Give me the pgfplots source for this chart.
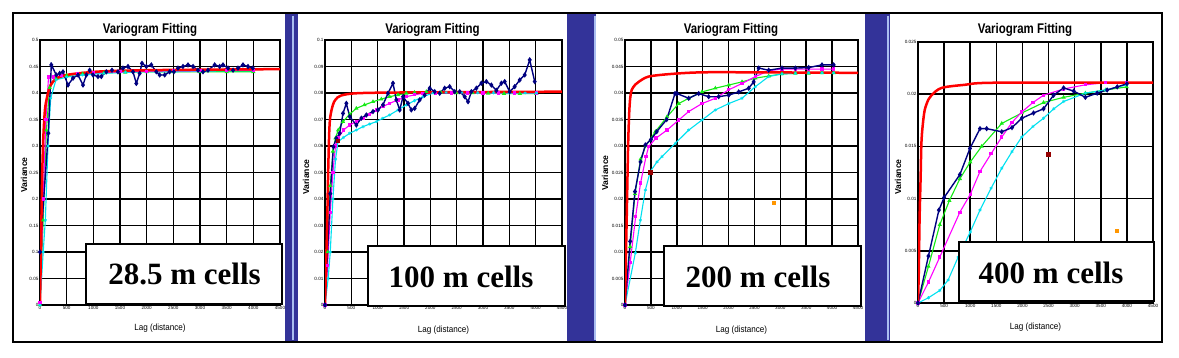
\documentclass[border=0pt]{standalone}
\usepackage{fontspec}
\setmainfont{Liberation Sans}
\newfontfamily\timesbf{Liberation Serif}
\usepackage{pgfplots}
\pgfplotsset{compat=1.18}
\definecolor{stripblue}{RGB}{51,51,153}
\definecolor{stripline}{RGB}{170,190,240}
\definecolor{navy}{RGB}{0,0,128}
\definecolor{vgreen}{RGB}{20,235,20}
\definecolor{vmag}{RGB}{255,0,255}
\definecolor{vcyan}{RGB}{0,225,240}
\definecolor{darkred}{RGB}{150,0,0}
\definecolor{vorange}{RGB}{255,150,0}
\pgfplotsset{
 vario/.style={scale only axis, anchor=south west, xmin=0, xmax=4500, ymin=0,
  xtick={0,500,...,4500}, grid=major,
  major grid style={black, line width=0.8pt},
  axis line style={black, line width=0.8pt},
  tick style={draw=none},
  ticklabel style={font=\fontsize{2.3}{2.6}\selectfont, inner sep=0.6pt},
  /pgf/number format/assume math mode=true,
  xticklabel style={/pgf/number format/1000 sep={}},
  yticklabel style={/pgf/number format/fixed, /pgf/number format/precision=3},
  scaled y ticks=false, scaled x ticks=false,
  every axis plot/.append style={line width=0.55pt}},
 nav/.style={navy, mark=diamond*, mark size=0.8pt, line width=0.7pt},
 grn/.style={vgreen, mark=triangle*, mark size=0.7pt},
 mag/.style={vmag, mark=square*, mark size=0.55pt},
 cya/.style={vcyan, mark=asterisk, mark size=0.8pt, mark options={line width=0.3pt}},
 fit/.style={red, line width=1.25pt, no marks, smooth},
}
\begin{document}
\begin{tikzpicture}
\useasboundingbox (0,0) rectangle (589.5pt,179pt);
\begin{scope}[x=0.5pt,y=-0.5pt,shift={(0,179pt)}]
 \fill[white] (0,0) rectangle (1179,358);
 \fill[stripblue] (285,13) rectangle (298,342);
 \fill[stripblue] (567,13) rectangle (596,342);
 \fill[stripblue] (865,13) rectangle (890,342);
 \draw[stripline, line width=0.6pt] (293,16) -- (293,340);
 \draw[stripline, line width=0.6pt] (595,16) -- (595,340);
 \draw[stripline, line width=0.6pt] (888,16) -- (888,340);
 \draw[black, line width=1pt] (13,13) rectangle (1162,342);
 % titles
 \foreach \cx in {150,432.5,731,1025}{
   \node[font=\bfseries\fontsize{7}{8}\selectfont, inner sep=0pt] at (\cx,30) {\scalebox{0.82}[1]{Variogram Fitting}};}
 % x labels
 \node[font=\fontsize{4.5}{5}\selectfont, inner sep=0pt] at (160,328) {\scalebox{0.9}[1]{Lag (distance)}};
 \node[font=\fontsize{4.5}{5}\selectfont, inner sep=0pt] at (443.5,330) {\scalebox{0.9}[1]{Lag (distance)}};
 \node[font=\fontsize{4.5}{5}\selectfont, inner sep=0pt] at (741.5,330) {\scalebox{0.9}[1]{Lag (distance)}};
 \node[font=\fontsize{4.5}{5}\selectfont, inner sep=0pt] at (1035.5,327) {\scalebox{0.9}[1]{Lag (distance)}};
 % y labels
 \node[font=\bfseries\fontsize{4.3}{5}\selectfont, inner sep=0pt, rotate=90] at (24,175) {Variance};
 \node[font=\bfseries\fontsize{4.3}{5}\selectfont, inner sep=0pt, rotate=90] at (306,177) {Variance};
 \node[font=\bfseries\fontsize{4.3}{5}\selectfont, inner sep=0pt, rotate=90] at (605,173) {Variance};
 \node[font=\bfseries\fontsize{4.3}{5}\selectfont, inner sep=0pt, rotate=90] at (898,177) {Variance};
\end{scope}

% ---------- Panel 1: 28.5 m ----------
\begin{axis}[vario, at={(20pt,26.5pt)}, width=120pt, height=132.5pt,
  ymax=0.5, ytick={0,0.05,0.1,0.15,0.2,0.25,0.3,0.35,0.4,0.45,0.5}]
\addplot[grn] coordinates {(0,0)(60,0.16)(120,0.33)(180,0.41)(300,0.428)(500,0.433)(800,0.436)(1200,0.438)(1600,0.439)(2000,0.44)(2500,0.44)(3000,0.44)(3500,0.44)(4000,0.44)};
\addplot[cya] coordinates {(0,0)(60,0.1)(100,0.16)(150,0.3)(200,0.39)(300,0.425)(500,0.43)(800,0.434)(1200,0.437)(1600,0.439)(2000,0.44)(2500,0.44)(3000,0.441)(3500,0.442)(4000,0.442)};
\addplot[mag] coordinates {(0,0.005)(60,0.2)(110,0.35)(160,0.43)(250,0.43)(400,0.433)(700,0.436)(1000,0.438)(1500,0.44)(2000,0.441)(2500,0.442)(3000,0.442)(3500,0.443)(4000,0.443)};
\addplot[nav] coordinates {(0,0.1)(156,0.324)(212,0.453)(306,0.434)(369,0.437)(431,0.44)(525,0.415)(619,0.428)(712,0.434)(806,0.415)(869,0.434)(931,0.443)(994,0.434)(1087,0.431)(1150,0.431)(1244,0.44)(1350,0.443)(1462,0.44)(1556,0.447)(1650,0.45)(1744,0.44)(1806,0.418)(1869,0.437)(1912,0.456)(1994,0.45)(2087,0.453)(2181,0.44)(2244,0.434)(2338,0.434)(2431,0.44)(2510,0.44)(2587,0.447)(2681,0.45)(2775,0.453)(2870,0.45)(2962,0.443)(3056,0.44)(3150,0.443)(3275,0.453)(3369,0.45)(3431,0.453)(3525,0.447)(3620,0.443)(3712,0.447)(3806,0.453)(3900,0.45)(3990,0.447)};
\addplot[fit] coordinates {(0,0)(20,0.12)(40,0.24)(60,0.31)(80,0.35)(100,0.375)(150,0.4)(200,0.415)(300,0.427)(500,0.434)(800,0.438)(1200,0.441)(2000,0.443)(3000,0.444)(4500,0.445)};
\end{axis}

% ---------- Panel 2: 100 m ----------
\begin{axis}[vario, at={(162.5pt,26.5pt)}, width=118.5pt, height=132.5pt,
  ymax=0.1, ytick={0,0.01,0.02,0.03,0.04,0.05,0.06,0.07,0.08,0.09,0.1}]
\addplot[grn] coordinates {(0,0)(50,0.02)(100,0.045)(150,0.058)(200,0.063)(250,0.066)(342,0.0692)(469,0.072)(595,0.0742)(750,0.0755)(911,0.0767)(1070,0.0777)(1228,0.0786)(1386,0.0793)(1544,0.0799)(1700,0.0802)(1924,0.0805)(2200,0.0802)(2495,0.08)(2800,0.08)(3100,0.0799)(3400,0.0798)(3700,0.0798)(4013,0.0798)};
\addplot[mag] coordinates {(0,0)(50,0.015)(100,0.035)(150,0.05)(200,0.06)(250,0.063)(350,0.066)(469,0.0679)(595,0.0692)(722,0.0705)(850,0.072)(975,0.0736)(1100,0.0749)(1228,0.0761)(1386,0.0774)(1544,0.0786)(1700,0.0793)(1860,0.0799)(2100,0.08)(2400,0.08)(2700,0.08)(3000,0.08)(3300,0.08)(3600,0.08)(4013,0.08)};
\addplot[cya] coordinates {(0,0)(60,0.01)(100,0.02)(150,0.04)(200,0.055)(247,0.0616)(350,0.0632)(469,0.0648)(595,0.066)(722,0.0673)(850,0.0683)(975,0.0692)(1100,0.0705)(1228,0.0717)(1386,0.0736)(1544,0.0755)(1700,0.0771)(1860,0.0786)(2050,0.08)(2300,0.0802)(2600,0.0802)(2900,0.0801)(3200,0.0801)(3500,0.08)(3800,0.08)(4013,0.08)};
\addplot[nav] coordinates {(0,0)(100,0.042)(160,0.0597)(215,0.0629)(279,0.0648)(342,0.0723)(405,0.0761)(469,0.0711)(595,0.0679)(690,0.0705)(785,0.0717)(911,0.073)(1006,0.0736)(1101,0.0755)(1196,0.0799)(1291,0.0837)(1354,0.0774)(1418,0.0736)(1481,0.0786)(1576,0.0761)(1639,0.0736)(1703,0.0742)(1798,0.0774)(1893,0.0792)(1988,0.0818)(2083,0.0805)(2178,0.0799)(2273,0.0818)(2368,0.0824)(2463,0.0805)(2558,0.0805)(2653,0.0786)(2716,0.0767)(2779,0.0805)(2874,0.0818)(2969,0.0837)(3064,0.0843)(3159,0.083)(3254,0.081)(3349,0.0837)(3412,0.0843)(3507,0.0805)(3602,0.0824)(3697,0.0849)(3792,0.0868)(3887,0.0925)(3982,0.0843)};
\addplot[only marks, mark=square*, mark size=0.8pt, darkred] coordinates {(250,0.062)};
\addplot[fit] coordinates {(0,0)(20,0.015)(40,0.03)(60,0.05)(80,0.065)(100,0.071)(150,0.0755)(200,0.0775)(300,0.079)(600,0.0799)(1500,0.0802)(4500,0.0805)};
\end{axis}

% ---------- Panel 3: 200 m ----------
\begin{axis}[vario, at={(312.5pt,26.5pt)}, width=116.5pt, height=132.5pt,
  ymax=0.05, ytick={0,0.005,0.01,0.015,0.02,0.025,0.03,0.035,0.04,0.045,0.05}]
\addplot[grn] coordinates {(0,0)(100,0.011)(193,0.021)(300,0.0275)(400,0.03)(586,0.0327)(811,0.0355)(1037,0.038)(1230,0.039)(1487,0.0402)(1745,0.0409)(2003,0.0415)(2260,0.0421)(2518,0.0428)(2775,0.0432)(3032,0.0436)(3290,0.0437)(3547,0.0437)(3805,0.0438)(4030,0.0438)};
\addplot[mag] coordinates {(0,0)(100,0.008)(206,0.0167)(300,0.023)(406,0.028)(457,0.0299)(600,0.0315)(811,0.033)(1037,0.0349)(1230,0.0365)(1487,0.038)(1745,0.039)(2003,0.0406)(2260,0.0418)(2518,0.0431)(2775,0.0442)(3032,0.0445)(3290,0.0445)(3547,0.0445)(3805,0.0445)(4030,0.0445)};
\addplot[cya] coordinates {(0,0)(199,0.0098)(296,0.016)(393,0.0217)(489,0.0252)(618,0.027)(715,0.028)(972,0.0305)(1230,0.033)(1487,0.0349)(1745,0.0368)(2003,0.038)(2260,0.039)(2518,0.0412)(2775,0.0431)(3032,0.0436)(3290,0.0437)(3547,0.0438)(3805,0.0438)(4030,0.0438)};
\addplot[nav] coordinates {(0,0)(100,0.012)(193,0.0214)(300,0.027)(393,0.0302)(500,0.0312)(612,0.0327)(805,0.035)(966,0.0399)(1004,0.0399)(1230,0.039)(1423,0.0399)(1616,0.0393)(1809,0.0393)(2003,0.0396)(2196,0.0402)(2389,0.0409)(2485,0.0421)(2582,0.0447)(2775,0.0443)(3032,0.0447)(3290,0.0447)(3547,0.0448)(3805,0.0453)(4030,0.0453)};
\addplot[only marks, mark=square*, mark size=0.9pt, darkred] coordinates {(489,0.025)};
\addplot[only marks, mark=square*, mark size=0.7pt, vorange] coordinates {(2875,0.0193)};
\addplot[fit] coordinates {(0,0)(20,0.01)(40,0.02)(60,0.03)(80,0.036)(100,0.039)(130,0.0406)(200,0.0416)(264,0.0421)(457,0.0431)(902,0.0436)(1487,0.0439)(2500,0.0439)(4500,0.0438)};
\end{axis}

% ---------- Panel 4: 400 m ----------
\begin{axis}[vario, at={(459pt,27.5pt)}, width=117.5pt, height=130.5pt,
  ymax=0.025, ytick={0,0.005,0.01,0.015,0.02,0.025}]
\addplot[grn] coordinates {(0,0)(200,0.0035)(417,0.0075)(600,0.0098)(802,0.0119)(1000,0.0135)(1219,0.015)(1604,0.0172)(1988,0.0182)(2404,0.0192)(2788,0.0197)(3205,0.0201)(3590,0.0204)(3995,0.0207)};
\addplot[mag] coordinates {(0,0)(200,0.002)(417,0.0044)(802,0.0087)(1000,0.0104)(1187,0.0126)(1400,0.0143)(1604,0.0159)(1800,0.0173)(1988,0.0183)(2200,0.0192)(2404,0.0199)(2788,0.0205)(3205,0.0209)(3590,0.0211)(3995,0.0211)};
\addplot[cya] coordinates {(0,0)(200,0.0005)(417,0.0012)(577,0.0022)(769,0.0044)(1000,0.0068)(1187,0.0089)(1400,0.011)(1604,0.0129)(1800,0.0145)(1988,0.0159)(2200,0.0169)(2404,0.0177)(2600,0.0186)(2788,0.0193)(3205,0.0201)(3590,0.0204)(3995,0.0209)};
\addplot[nav] coordinates {(0,0)(200,0.0045)(400,0.0089)(500,0.0101)(802,0.0123)(994,0.0148)(1187,0.0167)(1315,0.0167)(1604,0.0164)(1800,0.0168)(1988,0.0177)(2212,0.0182)(2404,0.0186)(2596,0.0199)(2788,0.0206)(2981,0.0203)(3205,0.0197)(3430,0.0201)(3622,0.0204)(3815,0.0207)(4000,0.021)};
\addplot[only marks, mark=square*, mark size=0.9pt, darkred] coordinates {(2500,0.0142)};
\addplot[only marks, mark=square*, mark size=0.7pt, vorange] coordinates {(3815,0.0069)};
\addplot[fit] coordinates {(0,0)(15,0.003)(30,0.008)(50,0.012)(65,0.0153)(90,0.017)(129,0.0185)(200,0.0195)(258,0.0199)(450,0.0206)(898,0.0209)(1475,0.0211)(4500,0.0211)};
\end{axis}

% ---------- label boxes ----------
\begin{scope}[x=0.5pt,y=-0.5pt,shift={(0,179pt)}]
 \node[draw=black, line width=1pt, fill=white, minimum width=98pt, minimum height=30pt, inner sep=0pt] at (184,274) {};
 \node[font=\timesbf\bfseries\fontsize{15.5}{16}\selectfont, inner sep=0pt] at (184.5,274) {28.5 m cells};
 \node[draw=black, line width=1pt, fill=white, minimum width=98.5pt, minimum height=30pt, inner sep=0pt] at (466.5,276) {};
 \node[font=\timesbf\bfseries\fontsize{15.5}{16}\selectfont, inner sep=0pt] at (461,277) {100 m cells};
 \node[draw=black, line width=1pt, fill=white, minimum width=98.5pt, minimum height=30pt, inner sep=0pt] at (762.5,276) {};
 \node[font=\timesbf\bfseries\fontsize{15.5}{16}\selectfont, inner sep=0pt] at (758,277) {200 m cells};
 \node[draw=black, line width=1pt, fill=white, minimum width=97.5pt, minimum height=29.5pt, inner sep=0pt] at (1056.5,271.5) {};
 \node[font=\timesbf\bfseries\fontsize{15.5}{16}\selectfont, inner sep=0pt] at (1051,273) {400 m cells};
\end{scope}
\end{tikzpicture}
\end{document}
